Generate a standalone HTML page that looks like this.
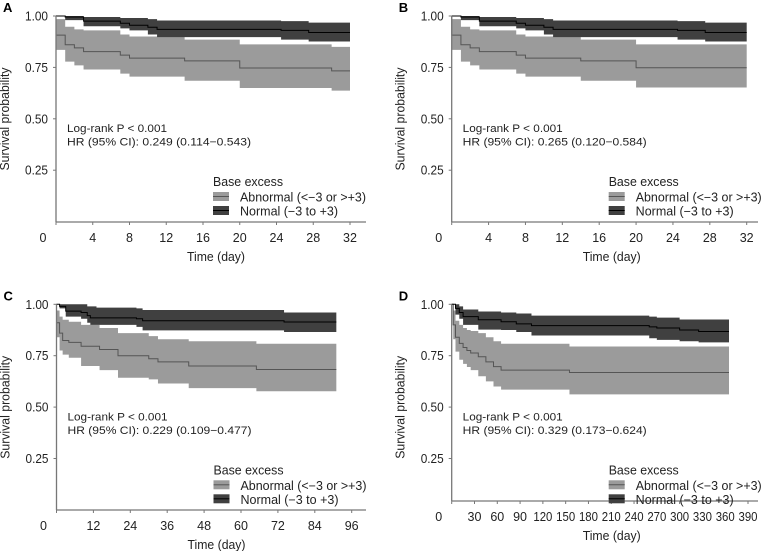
<!DOCTYPE html>
<html><head><meta charset="utf-8"><style>
html,body{margin:0;padding:0;background:#fff}
svg{display:block;font-family:"Liberation Sans",sans-serif}
</style></head><body>
<svg id="fig" width="762" height="551" viewBox="0 0 762 551"></svg>
<script>
// Panel A data
const aNormT=[0,1,3,7,8,10,11,24.5,27.5,32];
const aNormS=[1,0.995,0.975,0.965,0.955,0.945,0.935,0.93,0.92,0.92];
const aNormU=[1,1,0.995,0.99,0.99,0.985,0.978,0.975,0.968,0.968];
const aNormL=[1,0.98,0.95,0.94,0.93,0.91,0.897,0.885,0.876,0.876];
const aAbnT=[0,1,2,3,7,8,14,20,30,32];
const aAbnS=[0.907,0.86,0.845,0.827,0.81,0.795,0.782,0.747,0.733,0.733];
const aAbnU=[0.985,0.948,0.935,0.93,0.91,0.9,0.885,0.862,0.85,0.85];
const aAbnL=[0.835,0.778,0.76,0.74,0.72,0.705,0.685,0.65,0.637,0.637];
// Panel B data
const bNormT=[0,1,3,7,8,10,11,24.5,27.5,32];
const bNormS=[1,0.995,0.975,0.965,0.955,0.945,0.935,0.93,0.92,0.92];
const bNormU=[1,1,0.995,0.99,0.99,0.985,0.978,0.975,0.968,0.968];
const bNormL=[1,0.98,0.95,0.94,0.93,0.91,0.897,0.885,0.876,0.876];
const bAbnT=[0,1,2,3,7,8,14,20,32];
const bAbnS=[0.907,0.86,0.845,0.827,0.81,0.795,0.782,0.748,0.748];
const bAbnU=[0.985,0.948,0.935,0.93,0.91,0.9,0.885,0.862,0.862];
const bAbnL=[0.835,0.778,0.76,0.74,0.72,0.705,0.685,0.652,0.652];
// Panel C data
const cNormT=[0,1,3,8,10,11,13,26,28,74,91];
const cNormS=[1,0.99,0.967,0.96,0.945,0.934,0.934,0.93,0.92,0.914,0.914];
const cNormU=[1,1,1,1,0.99,0.99,0.984,0.98,0.972,0.96,0.96];
const cNormL=[1,0.98,0.94,0.93,0.91,0.9,0.9,0.89,0.873,0.865,0.865];
const cAbnT=[0,1,2,4,8,14,20,30,33,43,65,91];
const cAbnS=[0.91,0.86,0.824,0.815,0.796,0.78,0.75,0.735,0.72,0.7,0.683,0.683];
const cAbnU=[0.97,0.94,0.925,0.915,0.9,0.885,0.86,0.845,0.83,0.82,0.808,0.808];
const cAbnL=[0.84,0.775,0.755,0.74,0.7,0.68,0.643,0.635,0.615,0.592,0.577,0.577];
// Panel D data
const dNormT=[0,5,10,15,35,65,85,105,260,270,300,325,365];
const dNormS=[1,0.98,0.96,0.94,0.925,0.915,0.905,0.896,0.89,0.885,0.875,0.868,0.868];
const dNormU=[1,1,0.99,0.975,0.965,0.96,0.955,0.945,0.94,0.935,0.926,0.926,0.926];
const dNormL=[1,0.95,0.93,0.9,0.877,0.875,0.865,0.848,0.835,0.827,0.82,0.815,0.815];
const dAbnT=[0,2,5,10,15,20,25,35,45,55,65,155,365];
const dAbnS=[1,0.9,0.84,0.81,0.79,0.775,0.763,0.745,0.72,0.697,0.68,0.668,0.668];
const dAbnU=[1,0.97,0.92,0.9,0.885,0.875,0.87,0.86,0.84,0.82,0.808,0.795,0.795];
const dAbnL=[1,0.83,0.77,0.73,0.71,0.695,0.68,0.65,0.625,0.6,0.585,0.562,0.562];
// ticks
const abTicks=[4,8,12,16,20,24,28,32];
const cTicks=[12,24,36,48,60,72,84,96];
const dTicks=[30,60,90,120,150,180,210,240,270,300,330,360,390];
const yTicks=[1.00,0.75,0.50,0.25];
const hrTexts=["HR (95% CI): 0.249 (0.114\u22120.543)","HR (95% CI): 0.265 (0.120\u22120.584)","HR (95% CI): 0.229 (0.109\u22120.477)","HR (95% CI): 0.329 (0.173\u22120.624)"];

const NS="http://www.w3.org/2000/svg";
const svg=document.getElementById('fig');
function mk(tag,attrs,parent){const e=document.createElementNS(NS,tag);for(const k in attrs)e.setAttribute(k,attrs[k]);(parent||svg).appendChild(e);return e;}
function txt(str,attrs,parent){const e=mk('text',attrs,parent);e.textContent=str;return e;}

const panels=[
 {letter:'A',x0:56,x1:350,tmax:32,axEnd:366,y1:16,axisY:222,ticks:abTicks,groups:[[aAbnT,aAbnS,aAbnU,aAbnL],[aNormT,aNormS,aNormU,aNormL]],hr:hrTexts[0]},
 {letter:'B',x0:451.7,x1:746.7,tmax:32,axEnd:758,y1:16,axisY:222,ticks:abTicks,groups:[[bAbnT,bAbnS,bAbnU,bAbnL],[bNormT,bNormS,bNormU,bNormL]],hr:hrTexts[1]},
 {letter:'C',x0:56.5,x1:351.7,tmax:96,axEnd:366,y1:304.3,axisY:510,ticks:cTicks,groups:[[cAbnT,cAbnS,cAbnU,cAbnL],[cNormT,cNormS,cNormU,cNormL]],hr:hrTexts[2]},
 {letter:'D',x0:451.7,x1:748,tmax:390,axEnd:758,y1:304.3,axisY:501,ticks:dTicks,groups:[[dAbnT,dAbnS,dAbnU,dAbnL],[dNormT,dNormS,dNormU,dNormL]],hr:hrTexts[3]}
];
const bandCol=['#9b9b9b','#404040'];
const lineCol=['#555','#000'];
const S=51.4;

panels.forEach(p=>{
 const g=mk('g',{});
 
 
 const X=t=>p.x0+(p.x1-p.x0)*t/p.tmax;
 const Y=v=>p.y1+(1-v)*4*S;
 const lt=txt(p.letter,{x:p.x0-53,y:p.y1-4,'font-size':13,'font-weight':'bold',fill:'#000'},g);
 
 
 p.groups.forEach((gr,gi)=>{
  const [T,Sv,U,L]=gr;
  const up=[],lo=[];
  for(let i=0;i<T.length-1;i++){
   up.push(X(T[i])+','+Y(U[i]));up.push(X(T[i+1])+','+Y(U[i]));
   lo.push(X(T[i])+','+Y(L[i]));lo.push(X(T[i+1])+','+Y(L[i]));
  }
  lo.reverse();
  const band=mk('path',{d:'M'+up.join('L')+'L'+lo.join('L')+'Z',fill:bandCol[gi],stroke:'none'},g);
  
  
 });
 p.groups.forEach((gr,gi)=>{
  const [T,Sv]=gr;
  let d='M'+X(0)+','+Y(1);
  for(let i=0;i<T.length-1;i++){d+='L'+X(T[i])+','+Y(Sv[i])+'L'+X(T[i+1])+','+Y(Sv[i]);}
  const ln=mk('path',{d:d,fill:'none',stroke:lineCol[gi],'stroke-width':1},g);
  
  
 });
 const ya=mk('line',{x1:p.x0,y1:p.y1,x2:p.x0,y2:p.axisY,stroke:'#777','stroke-width':1.3},g);
 
 
 const xa=mk('line',{x1:p.x0,y1:p.axisY,x2:p.axEnd,y2:p.axisY,stroke:'#777','stroke-width':1.3},g);
 
 
 yTicks.forEach(v=>{
  mk('line',{x1:p.x0-3,y1:Y(v),x2:p.x0,y2:Y(v),stroke:'#777'},g);
  const t=txt(v.toFixed(2),{x:p.x0-8,y:Y(v)+4.5,'font-size':12.5,'text-anchor':'end',fill:'#222',textLength:23,lengthAdjust:'spacingAndGlyphs'},g);
  
  
 });
 const z=txt('0',{x:p.x0-13,y:p.axisY+20,'font-size':12.5,'text-anchor':'middle',fill:'#222'},g);
 
 
 mk('line',{x1:p.x0,y1:p.axisY,x2:p.x0,y2:p.axisY+3,stroke:'#777'},g);
 p.ticks.forEach(v=>{
  mk('line',{x1:X(v),y1:p.axisY,x2:X(v),y2:p.axisY+3,stroke:'#777'},g);
  const s=String(v);
  const attrs={x:X(v),y:p.axisY+20,'font-size':12.5,'text-anchor':'middle',fill:'#222'};
  if(s.length>2){attrs.textLength=19;attrs.lengthAdjust='spacingAndGlyphs';}
  const t=txt(s,attrs,g);
  
  
 });
 const xt=txt('Time (day)',{x:p.x0+160,y:p.axisY+39,'font-size':12.5,'text-anchor':'middle',fill:'#222',textLength:58,lengthAdjust:'spacingAndGlyphs'},g);
 
 
 const cy=p.y1+103;
 const yt=txt('Survival probability',{x:p.x0-47,y:cy,'font-size':12.5,'text-anchor':'middle',fill:'#222',textLength:103,lengthAdjust:'spacingAndGlyphs',transform:'rotate(-90 '+(p.x0-47)+' '+cy+')'},g);
 
 
 const a1=txt('Log-rank P < 0.001',{x:p.x0+11,y:p.y1+116,'font-size':11,fill:'#222',textLength:100,lengthAdjust:'spacingAndGlyphs'},g);
 
 
 const a2=txt(p.hr,{x:p.x0+11,y:p.y1+129.5,'font-size':11,fill:'#222',textLength:184,lengthAdjust:'spacingAndGlyphs'},g);
 
 
 const lx=p.x0+157, ly=p.y1+170;
 const lt2=txt('Base excess',{x:lx,y:ly,'font-size':12.5,fill:'#222',textLength:70,lengthAdjust:'spacingAndGlyphs'},g);
 
 
 const labels=['Abnormal (<\u22123 or >+3)','Normal (\u22123 to +3)'];
 const lens=[126,98];
 labels.forEach((lb,i)=>{
  const sy=ly+6+i*14;
  const sw=mk('rect',{x:lx,y:sy,width:16,height:9,fill:bandCol[i]},g);
  
  
  mk('line',{x1:lx,y1:sy+4.5,x2:lx+16,y2:sy+4.5,stroke:lineCol[i]},g);
  const t=txt(lb,{x:lx+27,y:sy+9.5,'font-size':12.5,fill:'#222',textLength:lens[i],lengthAdjust:'spacingAndGlyphs'},g);
  
  
 });
});
</script>
</body></html>
